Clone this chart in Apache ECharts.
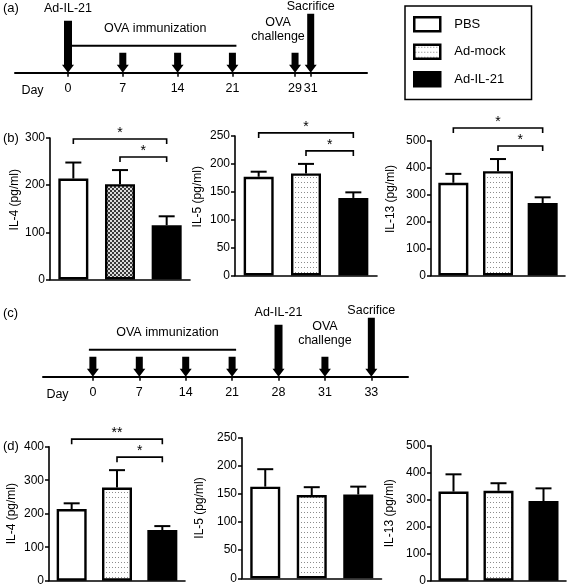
<!DOCTYPE html>
<html><head><meta charset="utf-8">
<script src="https://cdn.jsdelivr.net/npm/echarts@6/dist/echarts.min.js"></script>
<style>html,body{margin:0;padding:0;background:#fff}#c{width:568px;height:588px}</style>
</head><body><div id="c"></div>
<script>
// ---------------- data ----------------
const groups = ['PBS', 'Ad-mock', 'Ad-IL-21'];

// (a) timeline
const timelineA_days = [0, 7, 14, 21, 29, 31];
const timelineA_events = ['Ad-IL-21', 'OVA', 'OVA', 'OVA', 'OVA challenge', 'Sacrifice'];
const timelineA_immunization = [0, 21];

// (c) timeline
const timelineC_days = [0, 7, 14, 21, 28, 31, 33];
const timelineC_events = ['OVA', 'OVA', 'OVA', 'OVA', 'Ad-IL-21', 'OVA challenge', 'Sacrifice'];
const timelineC_immunization = [0, 21];

// (b) cytokines, mean and SEM
const b_IL4_mean = [214, 202, 115];
const b_IL4_sem = [34, 30, 19];
const b_IL4_ticks = [0, 100, 200, 300];
const b_IL4_sig = [[0, 2, '*'], [1, 2, '*']];

const b_IL5_mean = [177, 183, 139];
const b_IL5_sem = [9, 17, 10];
const b_IL5_ticks = [0, 50, 100, 150, 200, 250];
const b_IL5_sig = [[0, 2, '*'], [1, 2, '*']];

const b_IL13_mean = [344, 387, 269];
const b_IL13_sem = [33, 45, 21];
const b_IL13_ticks = [0, 100, 200, 300, 400, 500];
const b_IL13_sig = [[0, 2, '*'], [1, 2, '*']];

// (d) cytokines
const d_IL4_mean = [214, 278, 151];
const d_IL4_sem = [17, 52, 12];
const d_IL4_ticks = [0, 100, 200, 300, 400];
const d_IL4_sig = [[0, 2, '**'], [1, 2, '*']];

const d_IL5_mean = [163, 148, 149];
const d_IL5_sem = [31, 14, 14];
const d_IL5_ticks = [0, 50, 100, 150, 200, 250];
const d_IL5_sig = [];

const d_IL13_mean = [330, 333, 295];
const d_IL13_sem = [64, 28, 47];
const d_IL13_ticks = [0, 100, 200, 300, 400, 500];
const d_IL13_sig = [];

// ---------------- styles ----------------
const FONT = "'Liberation Sans', Arial, Helvetica, sans-serif";

function makePattern(w, h, draw) {
  const c = document.createElement('canvas');
  c.width = w; c.height = h;
  draw(c.getContext('2d'));
  return { image: c, repeat: 'repeat' };
}
const dotPattern = makePattern(3, 5, ctx => {
  ctx.fillStyle = '#ffffff'; ctx.fillRect(0, 0, 3, 5);
  ctx.fillStyle = '#8c8c8c'; ctx.fillRect(1, 2, 1, 1);
});
const densePattern = makePattern(4, 4, ctx => {
  ctx.fillStyle = '#dcdcdc'; ctx.fillRect(0, 0, 4, 4);
  ctx.fillStyle = '#3a3a3a'; ctx.fillRect(0, 0, 2, 2); ctx.fillRect(2, 2, 2, 2);
});

const eventStyle = {
  'OVA': { h: 20, shaft: 7, label: null, gap: 0 },
  'OVA challenge': { h: 20, shaft: 7, label: 'OVA\nchallenge', gap: 9 },
  'Ad-IL-21': { h: 52, shaft: 8, label: 'Ad-IL-21', gap: 5 },
  'Sacrifice': { h: 59, shaft: 7, label: 'Sacrifice', gap: 0 }
};

function arrowRenderer(events, labelDx) {
  return function (params, api) {
    const p = api.coord([api.value(0), 0]);
    const ev = events[params.dataIndex];
    const st = eventStyle[ev];
    const x0 = p[0], y0 = p[1], top = y0 - st.h, hh = 8, hw = 6, sw = st.shaft / 2;
    const children = [{
      type: 'polygon',
      shape: { points: [[x0 - sw, top], [x0 + sw, top], [x0 + sw, y0 - hh], [x0 + hw, y0 - hh], [x0, y0], [x0 - hw, y0 - hh], [x0 - sw, y0 - hh]] },
      style: { fill: '#000' }
    }];
    if (st.label) {
      children.push({
        type: 'text', x: x0 + (labelDx[ev] || 0), y: top - st.gap,
        style: { text: st.label, fill: '#000', fontSize: 12.5, fontFamily: FONT, align: 'center', verticalAlign: 'bottom', lineHeight: 14 }
      });
    }
    return { type: 'group', children };
  };
}

function immunRenderer(params, api) {
  const a = api.coord([api.value(0), 0]), b = api.coord([api.value(1), 0]);
  const y = a[1] - 27;
  return {
    type: 'group', children: [
      { type: 'line', shape: { x1: a[0] - 4, y1: y, x2: b[0] + 4, y2: y }, style: { stroke: '#000', lineWidth: 2 } },
      { type: 'text', x: (a[0] + b[0]) / 2 + 5, y: y - 17, style: { text: 'OVA immunization', fill: '#000', fontSize: 12.5, fontFamily: FONT, align: 'center', verticalAlign: 'middle' } }
    ]
  };
}

function errRenderer(params, api) {
  const x = api.value(0);
  const p0 = api.coord([x, api.value(1)]);
  const p1 = api.coord([x, api.value(2)]);
  return {
    type: 'group', children: [
      { type: 'line', shape: { x1: p0[0], y1: p0[1], x2: p1[0], y2: p1[1] }, style: { stroke: '#000', lineWidth: 2 } },
      { type: 'line', shape: { x1: p1[0] - 8, y1: p1[1], x2: p1[0] + 8, y2: p1[1] }, style: { stroke: '#000', lineWidth: 2 } }
    ]
  };
}

function bracketRenderer(means, sems, sig) {
  return function (params, api) {
    const order = sig.map((s, i) => i).sort((a, b) => (sig[a][1] - sig[a][0]) - (sig[b][1] - sig[b][0]));
    const ys = []; let prev = Infinity;
    order.forEach(i => {
      const [a, b] = sig[i];
      let top = Infinity;
      for (let j = a; j <= b; j++) top = Math.min(top, api.coord([j, means[j] + sems[j]])[1]);
      const y = Math.min(top - 13, prev - 18);
      ys[i] = y; prev = y;
    });
    const k = params.dataIndex;
    const x1 = api.coord([sig[k][0], 0])[0], x2 = api.coord([sig[k][1], 0])[0], y = ys[k];
    return {
      type: 'group', children: [
        { type: 'polyline', shape: { points: [[x1, y + 5], [x1, y], [x2, y], [x2, y + 5]] }, style: { stroke: '#000', lineWidth: 1.6, fill: null } },
        { type: 'text', x: (x1 + x2) / 2, y: y + 1, style: { text: sig[k][2], fill: '#000', fontSize: 14, fontFamily: FONT, align: 'center', verticalAlign: 'bottom' } }
      ]
    };
  };
}

// ---------------- layout ----------------
const grids = [
  { left: 15, top: 0, width: 352, height: 72.7 },     // (a)
  { left: 43, top: 280, width: 365, height: 96.7 }    // (c)
];
const xAxes = [], yAxes = [], series = [];

// (a) axis: linear in days
xAxes.push({
  gridIndex: 0, type: 'value', min: -6.77, max: 38.19, splitLine: { show: false },
  axisLine: { onZero: false, lineStyle: { color: '#000', width: 2 } },
  axisTick: { show: true, customValues: timelineA_days, length: 4, lineStyle: { color: '#000', width: 1.5 } },
  axisLabel: { customValues: timelineA_days, margin: 9, fontSize: 12.5, color: '#000', fontFamily: FONT },
  name: 'Day', nameLocation: 'start', nameGap: -17.5,
  nameTextStyle: { align: 'center', verticalAlign: 'top', padding: [11, 0, 0, 0], fontSize: 12.5, color: '#000', fontFamily: FONT }
});
yAxes.push({ gridIndex: 0, type: 'value', min: 0, max: 1, show: false });

// (c) axis: events in order
xAxes.push({
  gridIndex: 1, type: 'value', min: -1.075, max: 6.79, splitLine: { show: false },
  axisLine: { onZero: false, lineStyle: { color: '#000', width: 2 } },
  axisTick: { show: true, customValues: timelineC_days.map((d, i) => i), length: 4, lineStyle: { color: '#000', width: 1.5 } },
  axisLabel: { customValues: timelineC_days.map((d, i) => i), formatter: v => String(timelineC_days[Math.round(v)]), margin: 9, fontSize: 12.5, color: '#000', fontFamily: FONT },
  name: 'Day', nameLocation: 'start', nameGap: -14.5,
  nameTextStyle: { align: 'center', verticalAlign: 'top', padding: [11, 0, 0, 0], fontSize: 12.5, color: '#000', fontFamily: FONT }
});
yAxes.push({ gridIndex: 1, type: 'value', min: 0, max: 1, show: false });

series.push({
  type: 'custom', xAxisIndex: 0, yAxisIndex: 0, clip: false, silent: true,
  data: timelineA_days.map(d => [d, 0]),
  renderItem: arrowRenderer(timelineA_events, { 'OVA challenge': -17 })
});
series.push({
  type: 'custom', xAxisIndex: 0, yAxisIndex: 0, clip: false, silent: true,
  data: [timelineA_immunization], renderItem: immunRenderer
});
series.push({
  type: 'custom', xAxisIndex: 1, yAxisIndex: 1, clip: false, silent: true,
  data: timelineC_days.map((d, i) => [i, 0]),
  renderItem: arrowRenderer(timelineC_events, {})
});
series.push({
  type: 'custom', xAxisIndex: 1, yAxisIndex: 1, clip: false, silent: true,
  data: [timelineC_immunization.map(d => timelineC_days.indexOf(d))], renderItem: immunRenderer
});

const barCharts = [
  { name: 'IL-4 (pg/ml)', mean: b_IL4_mean, sem: b_IL4_sem, ticks: b_IL4_ticks, sig: b_IL4_sig, mock: densePattern, grid: { left: 50, top: 138, width: 140, height: 141.5 }, nameGap: 29, shift: 18 },
  { name: 'IL-5 (pg/ml)', mean: b_IL5_mean, sem: b_IL5_sem, ticks: b_IL5_ticks, sig: b_IL5_sig, mock: dotPattern, grid: { left: 235, top: 136, width: 142, height: 139.5 }, nameGap: 31, shift: 18 },
  { name: 'IL-13 (pg/ml)', mean: b_IL13_mean, sem: b_IL13_sem, ticks: b_IL13_ticks, sig: b_IL13_sig, mock: dotPattern, grid: { left: 431, top: 140.7, width: 134, height: 134.8 }, nameGap: 34, shift: 18 },
  { name: 'IL-4 (pg/ml)', mean: d_IL4_mean, sem: d_IL4_sem, ticks: d_IL4_ticks, sig: d_IL4_sig, mock: dotPattern, grid: { left: 49, top: 446.7, width: 136, height: 134 }, nameGap: 31, shift: 0 },
  { name: 'IL-5 (pg/ml)', mean: d_IL5_mean, sem: d_IL5_sem, ticks: d_IL5_ticks, sig: d_IL5_sig, mock: dotPattern, grid: { left: 242, top: 437.7, width: 139.5, height: 140.6 }, nameGap: 36, shift: 0 },
  { name: 'IL-13 (pg/ml)', mean: d_IL13_mean, sem: d_IL13_sem, ticks: d_IL13_ticks, sig: d_IL13_sig, mock: dotPattern, grid: { left: 431, top: 445.7, width: 135, height: 135 }, nameGap: 35, shift: 0 }
];

barCharts.forEach(bc => {
  const gi = grids.length;
  grids.push(bc.grid);
  xAxes.push({
    gridIndex: gi, type: 'category', data: groups,
    axisLine: { show: true, lineStyle: { color: '#000', width: 1.6 } },
    axisTick: { show: false }, axisLabel: { show: false }, splitLine: { show: false }
  });
  const t = bc.ticks;
  yAxes.push({
    gridIndex: gi, type: 'value', min: t[0], max: t[t.length - 1], interval: t[1] - t[0],
    name: bc.name, nameLocation: 'middle', nameGap: bc.nameGap, nameRotate: 90, nameMoveOverlap: false,
    nameTextStyle: { fontSize: 12, color: '#000', fontFamily: FONT, padding: [0, 0, 0, bc.shift] },
    axisLine: { show: true, lineStyle: { color: '#000', width: 1.6 } },
    axisTick: { show: true, length: 4, lineStyle: { color: '#000', width: 1.5 } },
    axisLabel: { fontSize: 12, color: '#000', margin: 5, fontFamily: FONT },
    splitLine: { show: false }
  });
  const fills = ['#ffffff', bc.mock, '#000000'];
  groups.forEach((g, i) => {
    series.push({
      type: 'bar', name: g, xAxisIndex: gi, yAxisIndex: gi, barWidth: 30, barGap: '-100%', silent: true,
      data: groups.map((_, j) => j === i ? bc.mean[i] : '-'),
      itemStyle: { color: fills[i], borderColor: '#000', borderWidth: 2.4 }
    });
  });
  series.push({
    type: 'custom', xAxisIndex: gi, yAxisIndex: gi, clip: false, silent: true, z: 3,
    data: bc.mean.map((m, i) => [i, m, m + bc.sem[i]]),
    renderItem: errRenderer
  });
  if (bc.sig.length) {
    series.push({
      type: 'custom', xAxisIndex: gi, yAxisIndex: gi, clip: false, silent: true, z: 3,
      data: bc.sig.map(s => [s[0], s[1]]),
      renderItem: bracketRenderer(bc.mean, bc.sem, bc.sig)
    });
  }
});

const panelLetter = (text, x, y) => ({ type: 'text', x, y, style: { text, fill: '#000', fontSize: 13, fontFamily: FONT, verticalAlign: 'middle' } });

const option = {
  animation: false,
  textStyle: { fontFamily: FONT },
  grid: grids,
  xAxis: xAxes,
  yAxis: yAxes,
  legend: {
    data: [
      { name: 'PBS', itemStyle: { color: '#ffffff' } },
      { name: 'Ad-mock', itemStyle: { color: dotPattern } },
      { name: 'Ad-IL-21', itemStyle: { color: '#000000' } }
    ],
    orient: 'vertical', left: 405, top: 6, padding: [10, 26, 12, 8],
    itemWidth: 26, itemHeight: 14, itemGap: 11, icon: 'rect',
    borderColor: '#000', borderWidth: 1.5, selectedMode: false,
    itemStyle: { borderColor: '#000', borderWidth: 2.5 },
    textStyle: { fontSize: 13, color: '#000', fontFamily: FONT, padding: [0, 0, 0, 9] }
  },
  graphic: [
    panelLetter('(a)', 3, 8),
    panelLetter('(b)', 3, 138),
    panelLetter('(c)', 3, 313),
    panelLetter('(d)', 3, 446)
  ],
  series
};

const chart = echarts.init(document.getElementById('c'));
chart.setOption(option);
</script>
</body></html>
